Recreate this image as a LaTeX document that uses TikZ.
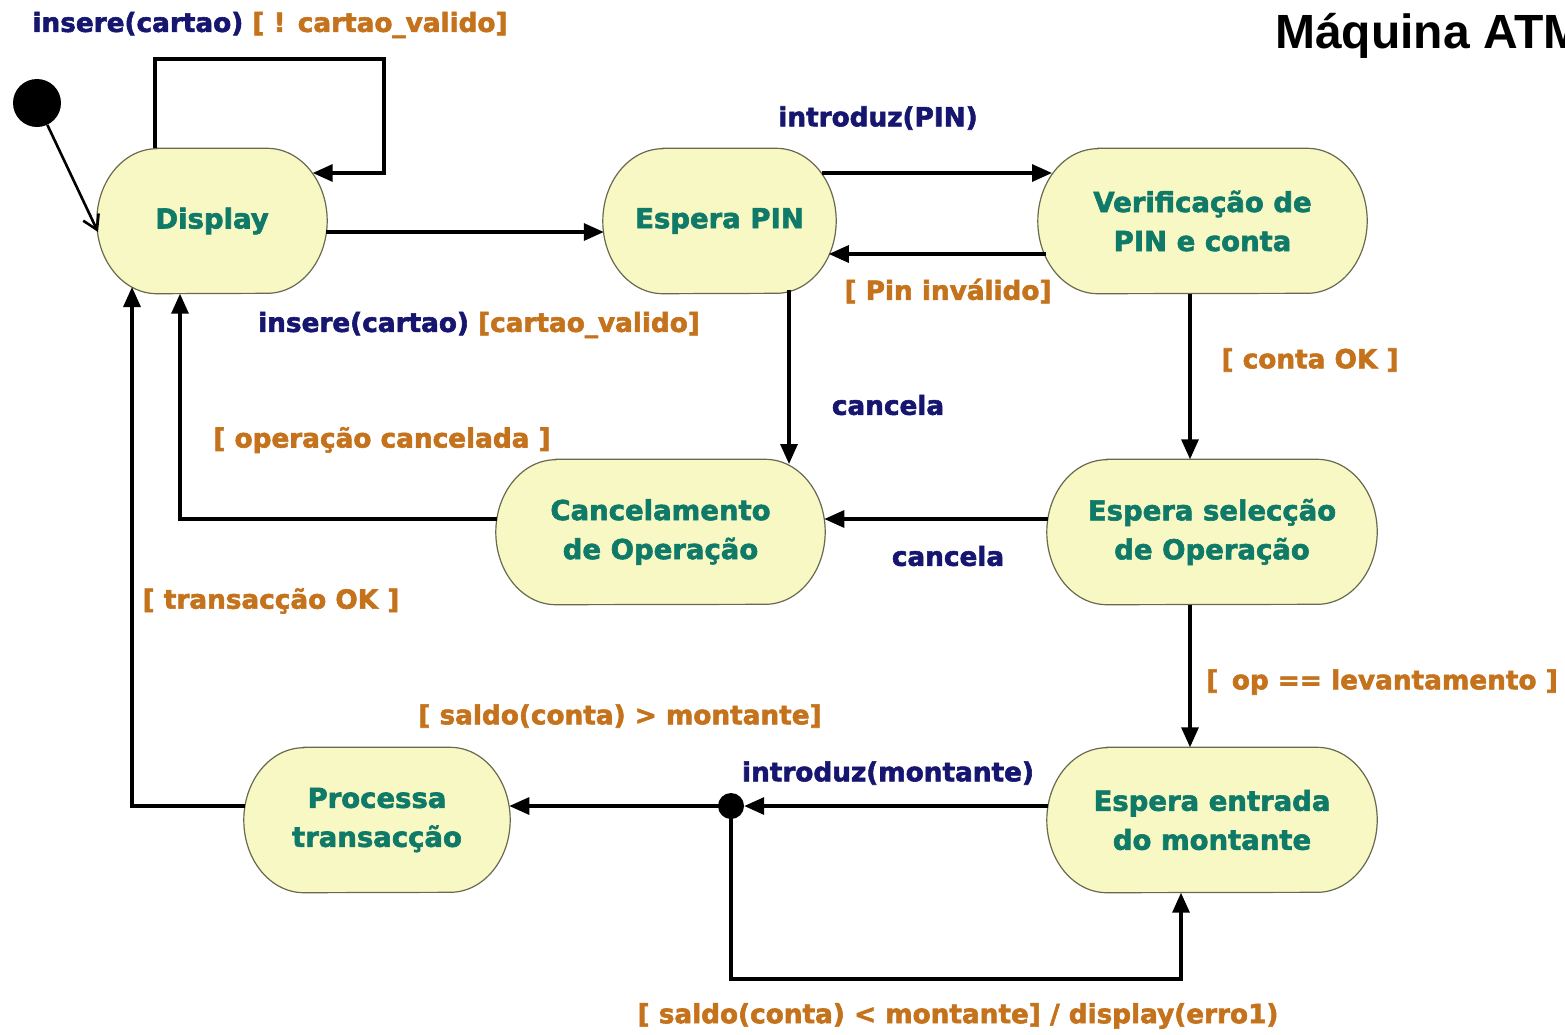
\documentclass[tikz,border=0pt]{standalone}
\usepackage{fontspec}
\setmainfont{DejaVu Sans}[BoldFeatures={FakeBold=2.2}]
\newfontfamily\titlefont{Liberation Sans}
\usetikzlibrary{arrows.meta,backgrounds}
\definecolor{stfill}{RGB}{248,248,196}
\definecolor{stline}{RGB}{105,105,80}
\definecolor{sttext}{RGB}{16,122,104}
\definecolor{evt}{RGB}{22,22,112}
\definecolor{grd}{RGB}{196,114,28}
\begin{document}
\begin{tikzpicture}[x=1pt,y=-1pt,
  state/.style={inner sep=0pt, minimum height=145pt, text=sttext, align=center,
    font=\fontsize{27.5}{39}\selectfont\bfseries},
  lbl/.style={inner sep=0pt, font=\fontsize{26.3}{30}\selectfont\bfseries},
  ev/.style={lbl, text=evt},
  gd/.style={lbl, text=grd},
  tr/.style={line width=3.2pt, -{Triangle[length=20pt,width=17pt]}}]
\useasboundingbox (0,0) rectangle (1565,1034);
\clip (0,0) rectangle (1565,1034);

% states
\node[state, minimum width=230pt] (disp) at (212,221) {Display};
\node[state, minimum width=233pt] (pin)  at (719.5,221) {Espera PIN};
\node[state, minimum width=329pt] (ver)  at (1202.5,221) {Verificação de\\PIN e conta};
\node[state, minimum width=329pt] (canc) at (660.5,532) {Cancelamento\\de Operação};
\node[state, minimum width=330pt] (sel)  at (1212,532) {Espera selecção\\de Operação};
\node[state, minimum width=266pt] (proc) at (377,820) {Processa\\transacção};
\node[state, minimum width=330pt] (ent)  at (1212,820) {Espera entrada\\do montante};

% pseudo states
\node[circle, fill=black, minimum size=48pt, inner sep=0pt] (init) at (37,103) {};
\node[circle, fill=black, minimum size=26pt, inner sep=0pt] (junc) at (731,806) {};

% state outlines with elliptic ends
\begin{scope}[on background layer]
\foreach \n in {disp,pin,ver,canc,sel,proc,ent}
  \draw[line width=1.2pt, draw=stline, fill=stfill]
    ([xshift=60pt]\n.north west) -- ([xshift=-60pt]\n.north east)
    arc[start angle=90, end angle=-90, x radius=60pt, y radius=72.5pt]
    -- ([xshift=60pt]\n.south west)
    arc[start angle=270, end angle=90, x radius=60pt, y radius=72.5pt] -- cycle;
\end{scope}

% transitions
\draw[line width=2.6pt, -{Straight Barb[length=14pt,width=17pt]}]
  (init) -- ([shift={(-114,11)}]disp.center);
\draw[tr] ([shift={(-57,-73)}]disp.center) -- ++(0,-89) -- ++(229,0)
  |- ([shift={(100.7,-48)}]disp.center);
\draw[tr] ([shift={(114.2,11)}]disp.center) -- ([shift={(-115.7,11)}]pin.center);
\draw[tr] ([shift={(102.5,-48)}]pin.center) -- ([shift={(-150.5,-48)}]ver.center);
\draw[tr] ([shift={(-157,33)}]ver.center) -- ([shift={(109.3,33)}]pin.center);
\draw[tr] ([shift={(69.5,69)}]pin.center) -- ([shift={(128.5,-68)}]canc.center);
\draw[tr] ([xshift=-12.5pt]ver.south) -- ([xshift=-12.5pt]ver.south |- sel.north);
\draw[tr] ([shift={(-164.3,-13)}]sel.center) -- ([shift={(163.8,-13)}]canc.center);
\draw[tr] ([shift={(-163.8,-13)}]canc.center) -| ([xshift=-32pt]disp.south);
\draw[tr] ([xshift=-22pt]sel.south) -- ([xshift=-22pt]sel.south |- ent.north);
\draw[tr] ([shift={(-164.3,-14)}]ent.center) -- (junc.east);
\draw[tr] (junc.center) -- ([shift={(132.3,-14)}]proc.center);
\draw[tr] (junc.center) -- ++(0,173) -| ([xshift=-31pt]ent.south);
\draw[tr] ([shift={(-132.3,-14)}]proc.center) -| ([shift={(-80,66)}]disp.center);

% labels
\node[lbl] (l1) at (270,25) {\textcolor{evt}{insere(cartao)} \textcolor{grd}{[ ! cartao\_valido]}};
\node[ev] (l2) at (878,118) {introduz(PIN)};
\node[gd] (l3) at (948,291) {[ Pin inválido]};
\node[lbl] (l4) at (479,325) {\textcolor{evt}{insere(cartao)} \textcolor{grd}{[cartao\_valido]}};
\node[ev] (l5) at (888,405) {cancela};
\node[gd] (l6) at (1310,360) {[ conta OK ]};
\node[gd] (l7) at (382,440) {[ operação cancelada ]};
\node[ev] (l8) at (948,556) {cancela};
\node[gd] (l9) at (271,601) {[ transacção OK ]};
\node[gd] (l10) at (1382,682) {[ \,op == levantamento ]};
\node[gd] (l11) at (620,716) {[ saldo(conta) > montante]};
\node[ev] (l12) at (888,773) {introduz(montante)};
\node[gd] (l13) at (958,1016) {[ saldo(conta) < montante] / display(erro1)};

% title
\node[anchor=base west, inner sep=0pt, font=\titlefont\fontsize{48}{50}\selectfont\bfseries]
  (title) at (1275,48) {Máquina ATM};
\end{tikzpicture}
\end{document}
